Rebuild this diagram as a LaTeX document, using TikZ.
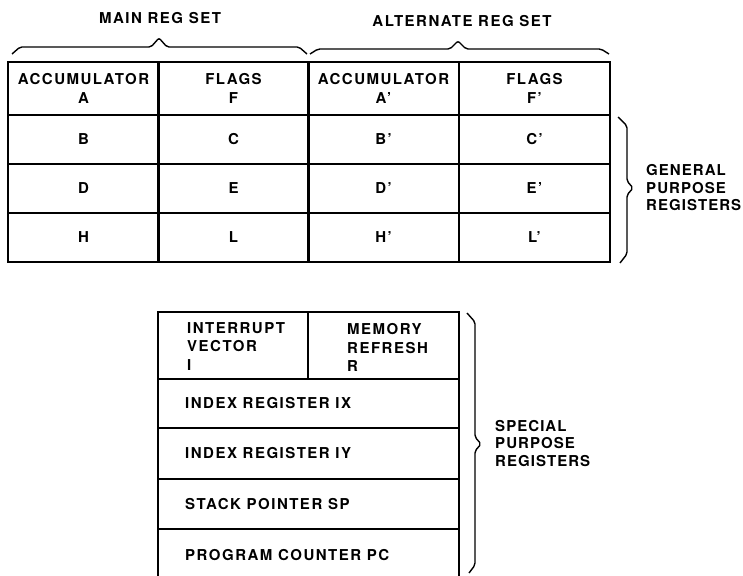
\documentclass[tikz,border=0pt]{standalone}
\usepackage{fontspec}
\setmainfont{TeX Gyre Heros}[LetterSpace=10]
\newcommand\lab{\bfseries\fontsize{15}{19}\selectfont}
\newcommand\labs{\bfseries\fontsize{15}{18.5}\selectfont}
\newcommand\labt{\bfseries\fontsize{15}{17.5}\selectfont\addfontfeatures{LetterSpace=7}}
\tikzset{
  cell/.style={draw, line width=1.5pt, inner sep=0pt, align=center, font=\lab},
  txt/.style={inner sep=0pt, anchor=west, align=left, font=\labs},
  side/.style={inner sep=0pt, anchor=west, align=left, font=\labt},
  head/.style={inner sep=0pt, font=\lab},
  brace/.style={line width=1.4pt, rounded corners=2pt, line join=round}
}
\begin{document}
\begin{tikzpicture}[x=1pt,y=-1pt]
\useasboundingbox (0,0) rectangle (743,575);
\clip (0,0) rectangle (743,575);
\fill[white] (0,0) rectangle (743,575);

% headings
\node[head] (mainlbl) at (160,18) {MAIN REG SET};
\node[head] (altlbl) at (462,21) {ALTERNATE REG SET};

% top braces
\draw[brace] (12,54) -- (20,47) -- (151,47) -- (159,38) -- (167,47) -- (299,47) -- (307,54);
\draw[brace] (310,54) -- (318,49) -- (450,49) -- (458,41) -- (466,49) -- (601,49) -- (609,54);

% general purpose register table
\tikzset{w/.style={minimum width=151pt}}
\node[cell,w,minimum height=53pt] (A)  at (83.5,88.5)  {ACCUMULATOR\\A};
\node[cell,w,minimum height=53pt] (F)  at (233.5,88.5) {FLAGS\\F};
\node[cell,w,minimum height=53pt] (A2) at (383.5,88.5) {ACCUMULATOR\\A’};
\node[cell,w,minimum height=53pt] (F2) at (534.5,88.5) {FLAGS\\F’};

\node[cell,w,minimum height=49pt] (B)  at (83.5,139.5)  {B};
\node[cell,w,minimum height=49pt] (C)  at (233.5,139.5) {C};
\node[cell,w,minimum height=49pt] (B2) at (383.5,139.5) {B’};
\node[cell,w,minimum height=49pt] (C2) at (534.5,139.5) {C’};

\node[cell,w,minimum height=49pt] (D)  at (83.5,188.5)  {D};
\node[cell,w,minimum height=49pt] (E)  at (233.5,188.5) {E};
\node[cell,w,minimum height=49pt] (D2) at (383.5,188.5) {D’};
\node[cell,w,minimum height=49pt] (E2) at (534.5,188.5) {E’};

\node[cell,w,minimum height=49pt] (H)  at (83.5,237.5)  {H};
\node[cell,w,minimum height=49pt] (L)  at (233.5,237.5) {L};
\node[cell,w,minimum height=49pt] (H2) at (383.5,237.5) {H’};
\node[cell,w,minimum height=49pt] (L2) at (534.5,237.5) {L’};

% general purpose brace
\draw[brace] (618,117) -- (627,126) -- (627,181) -- (633,188) -- (627,195) -- (627,254) -- (620,263);
\node[side] (gp) at (646,188) {GENERAL\\PURPOSE\\REGISTERS};

% special purpose register table
\node[cell,minimum width=150pt,minimum height=67pt] (Icell) at (233,345.5) {};
\node[cell,minimum width=151pt,minimum height=67pt] (Rcell) at (383.5,345.5) {};
\node[txt] (Itxt) at (187,346.5) {INTERRUPT\\VECTOR\\I};
\node[txt] (Rtxt) at (347,347.5) {MEMORY\\REFRESH\\R};

\node[cell,minimum width=301pt,minimum height=49pt] (IX) at (308.5,403.5) {};
\node[cell,minimum width=301pt,minimum height=51pt] (IY) at (308.5,453.5) {};
\node[cell,minimum width=301pt,minimum height=50pt] (SP) at (308.5,504) {};
\node[cell,minimum width=301pt,minimum height=51pt] (PC) at (308.5,554.5) {};
\node[txt] (IXt) at (185,403.5) {INDEX REGISTER IX};
\node[txt] (IYt) at (185,453.5) {INDEX REGISTER IY};
\node[txt] (SPt) at (185,504) {STACK POINTER SP};
\node[txt] (PCt) at (185,555) {PROGRAM COUNTER PC};

% special purpose brace
\draw[brace] (467,313) -- (475,322) -- (475,437) -- (481,444) -- (475,451) -- (475,565) -- (469,573);
\node[side] (sp) at (495,443.5) {SPECIAL\\PURPOSE\\REGISTERS};
\end{tikzpicture}
\end{document}
